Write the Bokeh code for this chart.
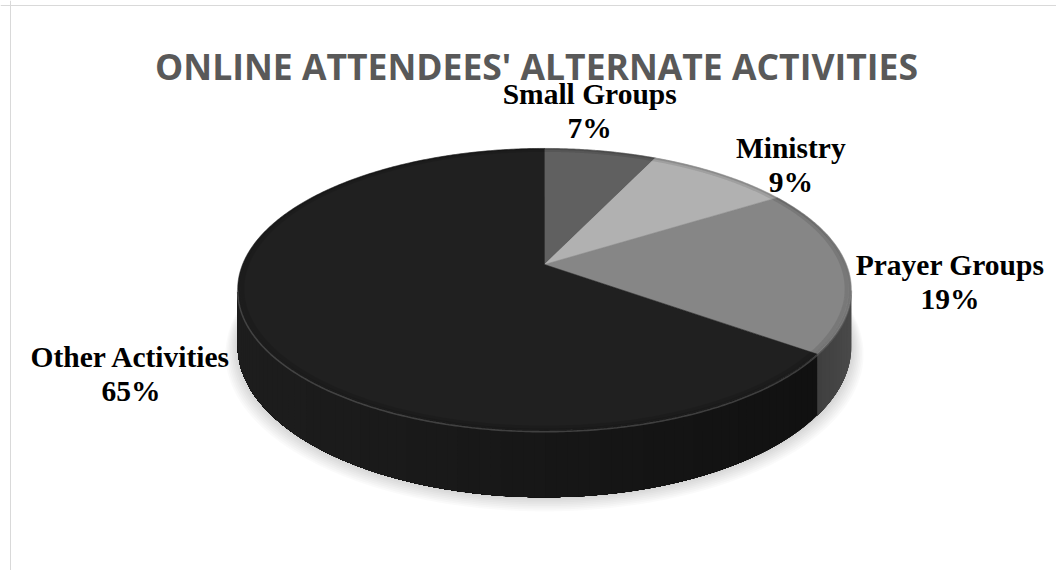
import numpy as np
from bokeh.plotting import figure
from bokeh.models import Range1d, Span
from bokeh.embed import file_html
from bokeh.resources import INLINE
from bokeh.core.properties import value

# ---- data ----
categories = ["Small Groups", "Ministry", "Prayer Groups", "Other Activities"]
percents = [7, 9, 19, 65]
pct_labels = ["7%", "9%", "19%", "65%"]
title_text = "ONLINE ATTENDEES' ALTERNATE ACTIVITIES"

# ---- styles ----
top_colors = ["#606060", "#b1b1b1", "#868686", "#202020"]
side_base = [(0x48, 0x48, 0x48), (0x80, 0x80, 0x80), (0x3a, 0x3a, 0x3a), (0x15, 0x15, 0x15)]
label_offsets = [(-11, -40), (70, -9), (102, 13), (-121, 42)]

W, H = 1056, 570
p = figure(width=W, height=H, x_range=Range1d(0, W), y_range=Range1d(H, 0),
           output_backend="svg", toolbar_location=None, min_border=0,
           x_axis_type=None, y_axis_type=None)
p.grid.visible = False
p.outline_line_color = None
p.background_fill_color = "white"

# chart frame (left and top edges visible)
p.add_layout(Span(location=10, dimension="height", line_color="#d9d9d9", line_width=1))
p.add_layout(Span(location=5, dimension="width", line_color="#d9d9d9", line_width=1))

# ---- perspective pie geometry ----
CX, CY = 544, 264
A, B, K, D = 302, 136.6, 0.177, 55


def proj(theta, rho=1.0, depth=0.0):
    u = rho * np.sin(theta)
    v = rho * np.cos(theta)
    w = 1 + K * v
    return CX + A * u / w, CY - B * v / w + depth / w


fr = np.array(percents, dtype=float) / sum(percents)
ends = np.cumsum(fr) * 2 * np.pi
starts = ends - fr * 2 * np.pi

# ---- soft shadow ----
tt = np.linspace(0, 2 * np.pi, 240)
bx, by = proj(tt, 1.0, D)
sx0, sy0 = CX, CY + 40
for i in range(8, 0, -1):
    s = 1 + i * 0.005
    p.patch(sx0 + (bx - sx0) * s, sy0 + (by - sy0) * s + i * 0.8,
            fill_color="black", fill_alpha=0.02, line_color=None)

# ---- sides ----
tv0 = np.arccos(-K)
tv1 = 2 * np.pi - tv0


def side_color(i, theta):
    mx, _ = proj(theta)
    f = (mx - CX) / A  # -1 (left) .. 1 (right)
    base = side_base[i]
    if i == 3:
        shade = 1.1 - 0.3 * f
    else:
        shade = 1.0 + 0.25 * max(0.0, f - 0.85) / 0.15
    c = tuple(int(max(0, min(255, ch * shade))) for ch in base)
    return "#%02x%02x%02x" % c


for i in range(len(percents)):
    a0, a1 = max(starts[i], tv0), min(ends[i], tv1)
    if a1 <= a0:
        continue
    n = max(3, int((a1 - a0) / 0.03))
    edges = np.linspace(a0, a1, n + 1)
    xs, ys, cols = [], [], []
    for j in range(n):
        seg = np.linspace(edges[j], a1, max(4, int((a1 - edges[j]) / 0.01)))
        x1, y1 = proj(seg)
        x2, y2 = proj(seg[::-1], 1.0, D)
        xs.append(np.concatenate([x1, x2]))
        ys.append(np.concatenate([y1, y2]))
        cols.append(side_color(i, 0.5 * (edges[j] + edges[j + 1])))
    p.patches(xs, ys, fill_color=cols, line_color=None)

# ---- top faces ----
txs, tys = [], []
for i in range(len(percents)):
    t = np.linspace(starts[i], ends[i], max(6, int((ends[i] - starts[i]) / 0.01)))
    x, y = proj(t)
    txs.append(np.concatenate([[CX], x]))
    tys.append(np.concatenate([[CY], y]))
p.patches(txs, tys, fill_color=top_colors, line_color=top_colors, line_width=0.5)

# bevel near rim
for i in range(len(percents)):
    t = np.linspace(starts[i], ends[i], 200)
    for rho, alpha, lw in [(0.985, 0.10, 4), (0.995, 0.12, 2)]:
        x, y = proj(t, rho)
        p.line(x, y, line_color="black", line_alpha=alpha, line_width=lw)
tf = np.linspace(tv0, tv1, 300)
x, y = proj(tf, 1.0, 1.0)
p.line(x, y, line_color="#6a6a6a", line_alpha=0.5, line_width=1.6)

# ---- labels ----
for i in range(len(percents)):
    mid = 0.5 * (starts[i] + ends[i])
    mx, my = proj(mid)
    ax, ay = mx + label_offsets[i][0], my + label_offsets[i][1]
    p.text(x=[ax], y=[ay - 17], text=[categories[i]], text_align="center",
           text_baseline="alphabetic", text_font=value("Liberation Serif"),
           text_font_style="bold", text_font_size="29.5px", text_color="black")
    p.text(x=[ax], y=[ay + 17], text=[pct_labels[i]], text_align="center",
           text_baseline="alphabetic", text_font=value("Liberation Serif"),
           text_font_style="bold", text_font_size="29.5px", text_color="black")

# ---- title ----
p.text(x=[536], y=[65], text=[title_text], text_align="center", text_baseline="alphabetic",
       text_font=value("Open Sans"), text_font_style="bold", text_font_size="35.5px",
       text_color="#595959")

open("out.html", "w").write(file_html(p, INLINE))
